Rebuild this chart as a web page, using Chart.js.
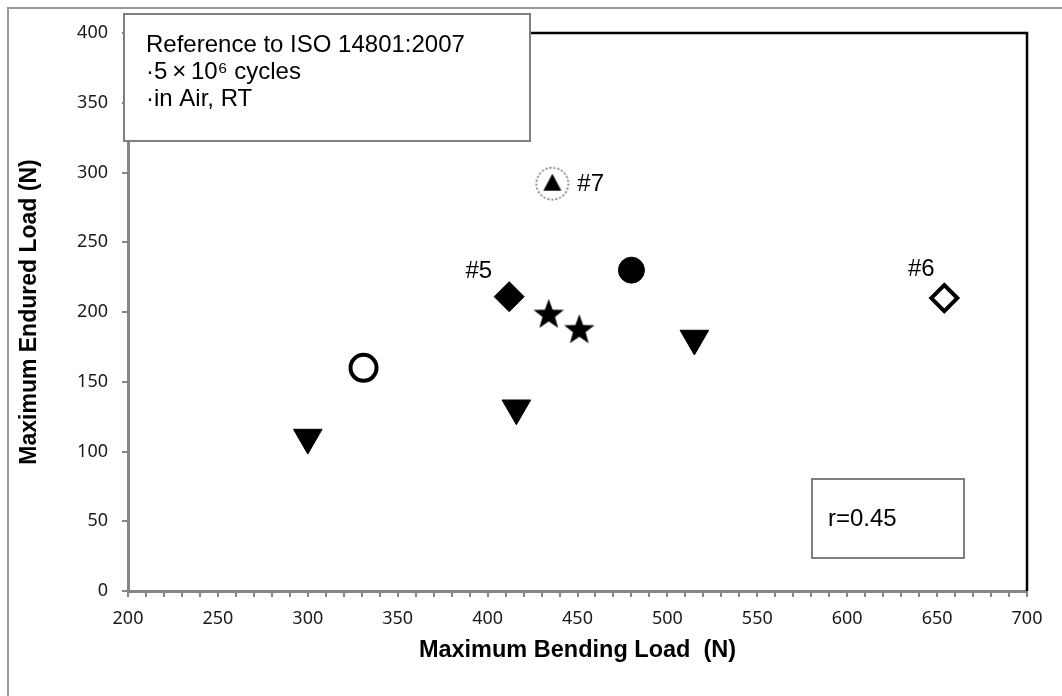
<!DOCTYPE html>
<html lang="en">
<head>
    <meta charset="UTF-8">
    <title>Maximum Endured Load vs Maximum Bending Load</title>
    <script src="https://cdn.jsdelivr.net/npm/chart.js"></script>
    <style>
        html, body { margin: 0; padding: 0; background: #ffffff; }
        canvas { display: block; }
    </style>
</head>
<body>
<canvas id="loadChart" width="1062" height="696"></canvas>

<script>
    // Values (x = bending load, y = endured load)
    const triDownX = [300, 416, 515];
    const triDownY = [110, 131, 181];
    const openCircleX = [331];
    const openCircleY = [160];
    const solidDiamondX = [412];
    const solidDiamondY = [211];
    const starX = [434, 451];
    const starY = [199, 188];
    const solidCircleX = [480];
    const solidCircleY = [230];
    const circledTriX = [436];
    const circledTriY = [292];
    const openDiamondX = [654];
    const openDiamondY = [210];

    const xTickLabels = [200, 250, 300, 350, 400, 450, 500, 550, 600, 650, 700];
    const yTickLabels = [0, 50, 100, 150, 200, 250, 300, 350, 400];

    const infoLines = ['Reference to ISO 14801:2007', '\u00b75\u2009\u00d7\u200910\u2076 cycles', '\u00b7in Air, RT'];
    const corrText = 'r=0.45';

    const toPoints = (xs, ys) => xs.map((x, i) => ({ x: x, y: ys[i] }));

    // five point star marker
    function makeStar() {
        const c = document.createElement('canvas');
        c.width = 36; c.height = 36;
        const g = c.getContext('2d');
        g.fillStyle = '#000';
        g.beginPath();
        for (let i = 0; i < 10; i++) {
            const r = i % 2 === 0 ? 16 : 6.6;
            const a = -Math.PI / 2 + i * Math.PI / 5;
            g.lineTo(18 + r * Math.cos(a), 19.5 + r * Math.sin(a));
        }
        g.closePath();
        g.fill();
        return c;
    }

    // small triangle inside a dashed circle
    function makeCircledTri() {
        const c = document.createElement('canvas');
        c.width = 38; c.height = 38;
        const g = c.getContext('2d');
        g.strokeStyle = '#555';
        g.lineWidth = 1.3;
        g.setLineDash([2, 2]);
        g.beginPath();
        g.arc(19, 19, 16, 0, Math.PI * 2);
        g.stroke();
        g.setLineDash([]);
        g.fillStyle = '#000';
        g.beginPath();
        g.moveTo(19, 9);
        g.lineTo(28, 26);
        g.lineTo(10, 26);
        g.closePath();
        g.fill();
        return c;
    }

    const pointLabels = [
        { text: '#7', x: circledTriX[0], y: circledTriY[0], dx: 25, dy: 1, align: 'left' },
        { text: '#5', x: solidDiamondX[0], y: solidDiamondY[0], dx: -17, dy: -25, align: 'right' },
        { text: '#6', x: openDiamondX[0], y: openDiamondY[0], dx: -23, dy: -29, align: 'center' }
    ];

    const decorations = {
        id: 'decorations',
        afterDraw(chart) {
            const ctx = chart.ctx;
            const a = chart.chartArea;
            const xs = chart.scales.x, ys = chart.scales.y;
            ctx.save();

            // outer frame (left and top visible)
            ctx.strokeStyle = '#9a9a9a';
            ctx.lineWidth = 2;
            ctx.beginPath();
            ctx.moveTo(8, 696);
            ctx.lineTo(8, 8);
            ctx.lineTo(1062, 8);
            ctx.stroke();

            // black top and right border of plot
            ctx.strokeStyle = '#000';
            ctx.lineWidth = 2.5;
            ctx.beginPath();
            ctx.moveTo(a.left, a.top);
            ctx.lineTo(a.right, a.top);
            ctx.lineTo(a.right, a.bottom);
            ctx.stroke();

            // info box
            ctx.fillStyle = '#fff';
            ctx.fillRect(124, 14, 406, 127);
            ctx.strokeStyle = '#7f7f7f';
            ctx.lineWidth = 2;
            ctx.strokeRect(124, 14, 406, 127);
            ctx.fillStyle = '#000';
            ctx.font = '24px "Liberation Sans", Arial, sans-serif';
            ctx.textAlign = 'left';
            ctx.textBaseline = 'middle';
            infoLines.forEach((line, i) => ctx.fillText(line, 146, 45 + i * 27));

            // correlation box
            ctx.fillStyle = '#fff';
            ctx.fillRect(812, 479, 152, 79);
            ctx.strokeRect(812, 479, 152, 79);
            ctx.fillStyle = '#000';
            ctx.fillText(corrText, 828, 519);

            // point labels
            pointLabels.forEach(p => {
                ctx.textAlign = p.align;
                ctx.fillText(p.text, xs.getPixelForValue(p.x) + p.dx, ys.getPixelForValue(p.y) + p.dy);
            });
            ctx.restore();
        }
    };

    const ctx = document.getElementById('loadChart').getContext('2d');
    new Chart(ctx, {
        type: 'scatter',
        data: {
            datasets: [
                { data: toPoints(triDownX, triDownY), pointStyle: 'triangle', rotation: 180, radius: 16.5,
                  backgroundColor: '#000', borderColor: '#000', borderWidth: 1 },
                { data: toPoints(openCircleX, openCircleY), pointStyle: 'circle', radius: 13,
                  backgroundColor: '#fff', borderColor: '#000', borderWidth: 4 },
                { data: toPoints(solidDiamondX, solidDiamondY), pointStyle: 'rectRot', radius: 15,
                  backgroundColor: '#000', borderColor: '#000', borderWidth: 1 },
                { data: toPoints(starX, starY), pointStyle: makeStar() },
                { data: toPoints(solidCircleX, solidCircleY), pointStyle: 'circle', radius: 13,
                  backgroundColor: '#000', borderColor: '#000', borderWidth: 1 },
                { data: toPoints(circledTriX, circledTriY), pointStyle: makeCircledTri() },
                { data: toPoints(openDiamondX, openDiamondY), pointStyle: 'rectRot', radius: 13,
                  backgroundColor: '#fff', borderColor: '#000', borderWidth: 4 }
            ]
        },
        options: {
            responsive: false,
            animation: false,
            layout: { padding: { left: 0, right: 35, top: 33, bottom: 0 } },
            plugins: { legend: { display: false }, tooltip: { enabled: false } },
            scales: {
                x: {
                    type: 'linear',
                    min: 200,
                    max: 700,
                    afterFit: s => { s.height = 105; },
                    border: { color: '#868686', width: 3 },
                    grid: { drawOnChartArea: false, color: '#868686', lineWidth: 2, tickLength: 6 },
                    ticks: {
                        stepSize: 10,
                        autoSkip: false,
                        maxRotation: 0,
                        padding: 11,
                        color: '#1a1a1a',
                        font: { family: '"Noto Sans", sans-serif', size: 18 },
                        callback: v => xTickLabels.includes(v) ? String(v) : ''
                    },
                    title: {
                        display: true,
                        text: 'Maximum Bending Load  (N)',
                        color: '#000',
                        font: { family: '"Liberation Sans", Arial, sans-serif', size: 23.5, weight: 'bold' },
                        padding: { top: 0, bottom: 31 }
                    }
                },
                y: {
                    min: 0,
                    max: 400,
                    afterFit: s => { s.width = 128; },
                    border: { color: '#868686', width: 3 },
                    grid: { drawOnChartArea: false, color: '#868686', lineWidth: 2, tickLength: 6 },
                    ticks: {
                        stepSize: 50,
                        padding: 14,
                        color: '#1a1a1a',
                        font: { family: '"Noto Sans", sans-serif', size: 18 },
                        callback: v => yTickLabels.includes(v) ? String(v) : ''
                    },
                    title: {
                        display: true,
                        text: 'Maximum Endured Load (N)',
                        color: '#000',
                        font: { family: '"Liberation Sans", Arial, sans-serif', size: 23, weight: 'bold' },
                        padding: { top: 16, bottom: 0 }
                    }
                }
            }
        },
        plugins: [decorations]
    });
</script>
</body>
</html>
